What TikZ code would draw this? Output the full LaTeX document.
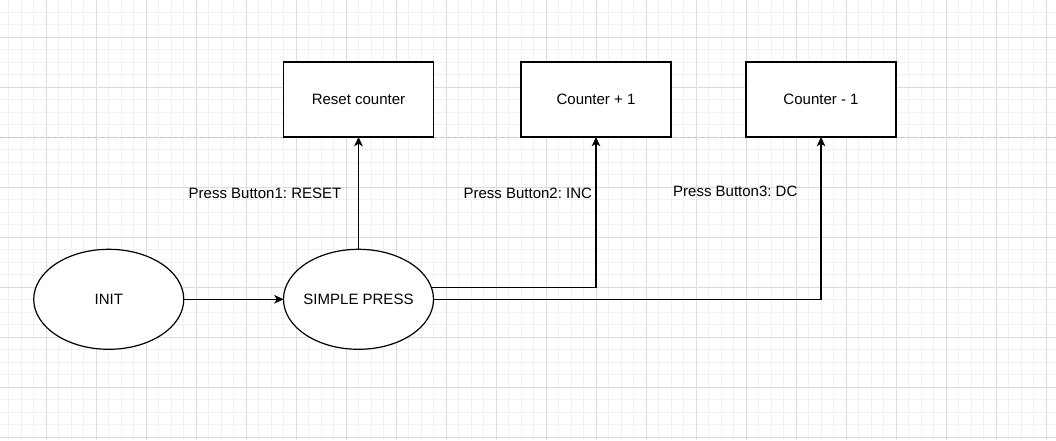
\documentclass[tikz,border=0pt]{standalone}
\usepackage{fontspec}
\setmainfont{Liberation Sans}
\frenchspacing
\usetikzlibrary{arrows.meta,shapes.geometric}

\definecolor{gridminor}{HTML}{F1F1F1}
\definecolor{gridmajor}{HTML}{DCDCDC}
\definecolor{pageline}{HTML}{C4C4C4}

\begin{document}
\begin{tikzpicture}[x=0.75pt,y=-0.75pt,
  every node/.style={font=\fontsize{11.25}{13.5}\selectfont},
  state/.style={ellipse,draw,line width=0.9pt,fill=white,inner xsep=-5pt,inner ysep=0pt,outer sep=0pt,
    minimum width=112.5pt,minimum height=75pt},
  action/.style={rectangle,draw,line width=0.9pt,fill=white,inner sep=0pt,outer sep=0pt,
    minimum width=112.5pt,minimum height=56.25pt},
  lbl/.style={inner sep=1pt},
  conn/.style={line width=0.9pt,-{Stealth[length=7pt,width=6.5pt,inset=2pt]}}]
\useasboundingbox (0,0) rectangle (1056,440);
% grid
\begin{scope}
\clip (0,0) rectangle (1056,440);
\foreach \x in {-3.75,8.75,...,1060} \draw[gridminor,line width=0.75pt] (\x,0) -- (\x,440);
\foreach \y in {-0.25,12.25,...,445} \draw[gridminor,line width=0.75pt] (0,\y) -- (1056,\y);
\foreach \x in {-3.75,46.25,...,1060} \draw[gridmajor,line width=0.75pt] (\x,0) -- (\x,440);
\foreach \y in {-12.75,37.25,...,445} \draw[gridmajor,line width=0.75pt] (0,\y) -- (1056,\y);
\draw[pageline,line width=0.75pt,dash pattern=on 3pt off 2pt] (0,137) -- (1056,137);
\end{scope}
% states
\node[state] (init) at (108.75,299.3) {INIT};
\node[state] (sp) at (358.5,299.3) {SIMPLE PRESS};
% actions
\node[action] (reset) at (358.5,99.5) {Reset counter};
\node[action] (inc) at (596,99.5) {Counter + 1};
\node[action] (dec) at (821,99.5) {Counter - 1};
% labels
\node[lbl] (lreset) at (265,193.5) {Press Button1: RESET};
\node[lbl] (linc) at (527.8,193.5) {Press Button2: INC};
\node[lbl] (ldec) at (735.3,191.7) {Press Button3: DC};
% transitions
\draw[conn] (init) -- (sp);
\draw[conn] (sp) -- (reset);
\draw[conn] (sp.9.3) -| (inc);
\draw[conn] (sp.east) -| (dec);
\end{tikzpicture}
\end{document}
